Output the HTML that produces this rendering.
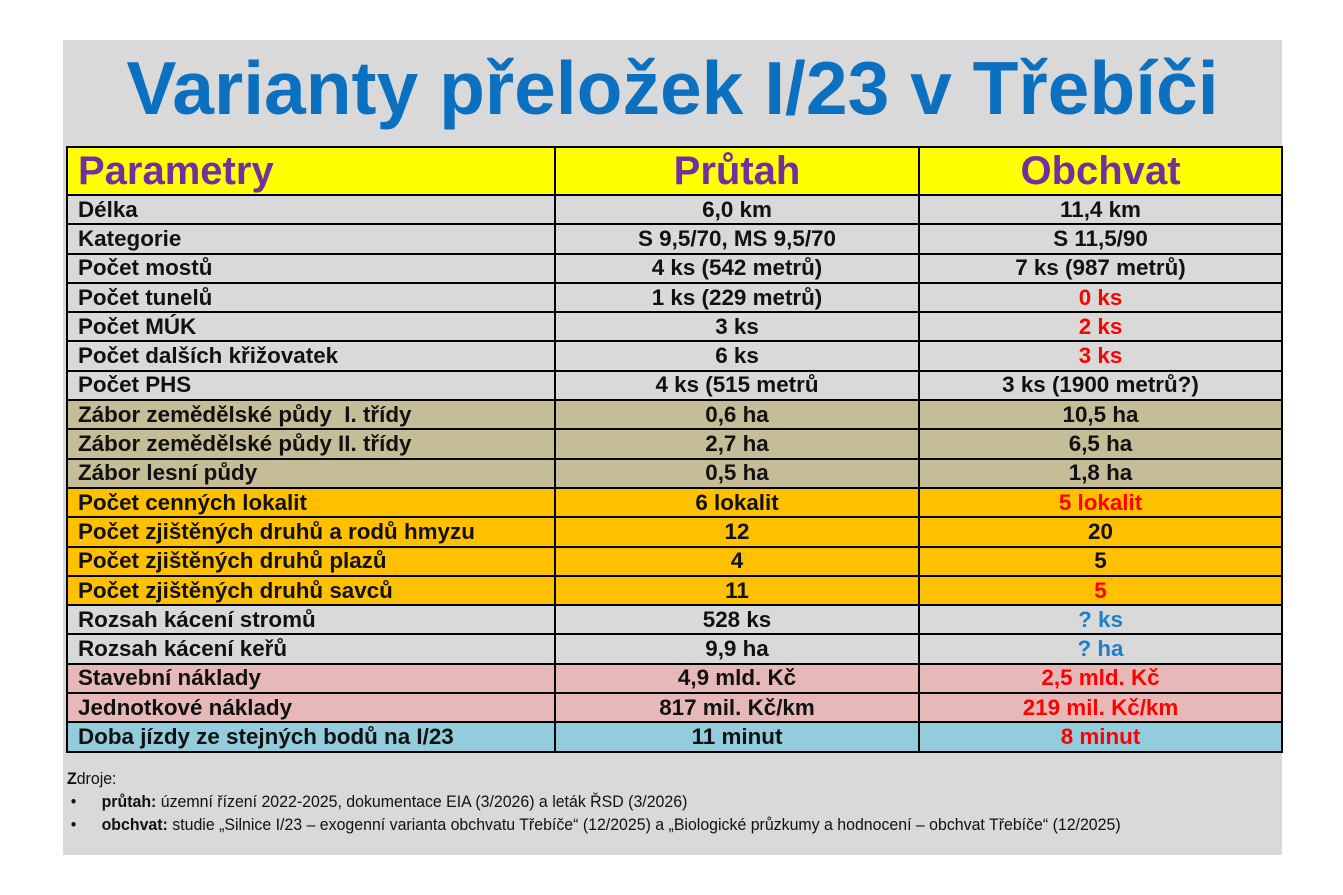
<!DOCTYPE html>
<html><head><meta charset="utf-8"><style>
body{margin:0;width:1343px;height:895px;background:#fff;position:relative;font-family:"Liberation Sans",Arial,sans-serif;overflow:hidden}
#panel{position:absolute;left:63px;top:40px;width:1219px;height:815px;background:#d9d9d9}
h1{position:absolute;left:63px;width:1219px;top:42px;margin:0;text-align:center;font-size:75px;font-weight:bold;color:#0b70c0;line-height:92px}
table{position:absolute;left:66px;top:146px;width:1215px;border-collapse:collapse;table-layout:fixed}
td{border:2px solid #000;padding:0 0 0 10px;height:27.3px;font-size:22.4px;font-weight:bold;color:#111;white-space:nowrap;line-height:26px}
td.c{text-align:center;padding:0}
tr.h td{height:46px;background:#ffff00;color:#7030a0;font-size:40px}
.g td{background:#d9d9d9}.t td{background:#c4bd97}.o td{background:#ffc000}.p td{background:#e6b9b8}.b td{background:#93cddd}
.r{color:#ff0000}.bl{color:#1f7fc7}
#src{position:absolute;left:67px;top:767px;font-size:17px;color:#111;transform:scaleX(0.935);transform-origin:0 0;line-height:23px;white-space:nowrap}
#src .li{padding-left:37px;position:relative}
#src .li:before{content:"•";position:absolute;left:4px}
</style></head><body>
<div id="panel"></div>
<h1>Varianty přeložek I/23 v Třebíči</h1>
<table>
<colgroup><col style="width:488px"><col style="width:364px"><col style="width:363px"></colgroup>
<tr class="h"><td>Parametry</td><td class="c">Průtah</td><td class="c">Obchvat</td></tr>
<tr class="g"><td>Délka</td><td class="c">6,0 km</td><td class="c">11,4 km</td></tr>
<tr class="g"><td>Kategorie</td><td class="c">S 9,5/70, MS 9,5/70</td><td class="c">S 11,5/90</td></tr>
<tr class="g"><td>Počet mostů</td><td class="c">4 ks (542 metrů)</td><td class="c">7 ks (987 metrů)</td></tr>
<tr class="g"><td>Počet tunelů</td><td class="c">1 ks (229 metrů)</td><td class="c r">0 ks</td></tr>
<tr class="g"><td>Počet MÚK</td><td class="c">3 ks</td><td class="c r">2 ks</td></tr>
<tr class="g"><td>Počet dalších křižovatek</td><td class="c">6 ks</td><td class="c r">3 ks</td></tr>
<tr class="g"><td>Počet PHS</td><td class="c">4 ks (515 metrů</td><td class="c">3 ks (1900 metrů?)</td></tr>
<tr class="t"><td>Zábor zemědělské půdy &nbsp;I. třídy</td><td class="c">0,6 ha</td><td class="c">10,5 ha</td></tr>
<tr class="t"><td>Zábor zemědělské půdy II. třídy</td><td class="c">2,7 ha</td><td class="c">6,5 ha</td></tr>
<tr class="t"><td>Zábor lesní půdy</td><td class="c">0,5 ha</td><td class="c">1,8 ha</td></tr>
<tr class="o"><td>Počet cenných lokalit</td><td class="c">6 lokalit</td><td class="c r">5 lokalit</td></tr>
<tr class="o"><td>Počet zjištěných druhů a rodů hmyzu</td><td class="c">12</td><td class="c">20</td></tr>
<tr class="o"><td>Počet zjištěných druhů plazů</td><td class="c">4</td><td class="c">5</td></tr>
<tr class="o"><td>Počet zjištěných druhů savců</td><td class="c">11</td><td class="c r">5</td></tr>
<tr class="g"><td>Rozsah kácení stromů</td><td class="c">528 ks</td><td class="c bl">? ks</td></tr>
<tr class="g"><td>Rozsah kácení keřů</td><td class="c">9,9 ha</td><td class="c bl">? ha</td></tr>
<tr class="p"><td>Stavební náklady</td><td class="c">4,9 mld. Kč</td><td class="c r">2,5 mld. Kč</td></tr>
<tr class="p"><td>Jednotkové náklady</td><td class="c">817 mil. Kč/km</td><td class="c r">219 mil. Kč/km</td></tr>
<tr class="b"><td>Doba jízdy ze stejných bodů na I/23</td><td class="c">11 minut</td><td class="c r">8 minut</td></tr>
</table>
<div id="src">
<div><b>Z</b>droje:</div>
<div class="li"><b>průtah:</b> územní řízení 2022-2025, dokumentace EIA (3/2026) a leták ŘSD (3/2026)</div>
<div class="li"><b>obchvat:</b> studie „Silnice I/23 – exogenní varianta obchvatu Třebíče“ (12/2025) a „Biologické průzkumy a hodnocení – obchvat Třebíče“ (12/2025)</div>
</div>
</body></html>
